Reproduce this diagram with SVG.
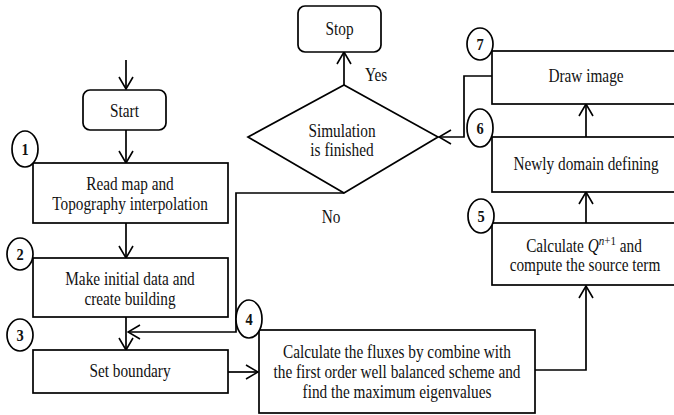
<svg xmlns="http://www.w3.org/2000/svg" width="674" height="415" viewBox="0 0 674 415">
<style>
.box{fill:#fff;stroke:#000;stroke-width:1.7}
.circ{fill:#fff;stroke:#000;stroke-width:1.7}
.ln{fill:none;stroke:#000;stroke-width:1.7}
text{font-family:"Liberation Serif","Times New Roman",serif;font-size:18px;fill:#111;text-anchor:middle}
.num{font-weight:bold;font-size:17px}
</style>
<defs>
<marker id="ah" viewBox="0 0 14 16" refX="13" refY="8" markerWidth="14" markerHeight="16" markerUnits="userSpaceOnUse" orient="auto">
<path d="M1,1 L13,8 L1,15" fill="none" stroke="#000" stroke-width="1.6"/>
</marker>
</defs>
<rect width="674" height="415" fill="#fff"/>
<g id="connectors">
<line class="ln" x1="126" y1="60" x2="126" y2="89" marker-end="url(#ah)"/>
<line class="ln" x1="126" y1="130" x2="126" y2="163" marker-end="url(#ah)"/>
<line class="ln" x1="126" y1="223" x2="126" y2="258" marker-end="url(#ah)"/>
<line class="ln" x1="126" y1="317" x2="126" y2="350" marker-end="url(#ah)"/>
<line class="ln" x1="228" y1="372" x2="258" y2="372" marker-end="url(#ah)"/>
<polyline class="ln" points="535,370 586,370 586,286" marker-end="url(#ah)"/>
<line class="ln" x1="586" y1="223" x2="586" y2="192" marker-end="url(#ah)"/>
<line class="ln" x1="586" y1="137" x2="586" y2="104" marker-end="url(#ah)"/>
<polyline class="ln" points="492,76 464,76 464,137 439,137" marker-end="url(#ah)"/>
<line class="ln" x1="344" y1="85" x2="344" y2="52" marker-end="url(#ah)"/>
<polyline class="ln" points="344,193 236,193 236,332 128,332" marker-end="url(#ah)"/>
<text transform="translate(365,81) scale(0.85,1)" style="text-anchor:start">Yes</text>
<text transform="translate(331,223) scale(0.85,1)">No</text>
</g>
<g id="start">
<rect class="box" x="83" y="90" width="83" height="40" rx="7"/>
<text transform="translate(124.5,117) scale(0.85,1)">Start</text>
</g>
<g id="step1">
<rect class="box" x="33" y="163" width="195" height="60"/>
<text transform="translate(130,190) scale(0.85,1)">Read map and</text>
<text transform="translate(130,210) scale(0.85,1)">Topography interpolation</text>
<ellipse class="circ" cx="25" cy="149" rx="13" ry="18"/>
<text class="num" transform="translate(25,155) scale(0.85,1)">1</text>
</g>
<g id="step2">
<rect class="box" x="33" y="258" width="195" height="59"/>
<text transform="translate(130,285) scale(0.85,1)">Make initial data and</text>
<text transform="translate(130,305) scale(0.85,1)">create building</text>
<ellipse class="circ" cx="20" cy="254" rx="13" ry="16"/>
<text class="num" transform="translate(20,260) scale(0.85,1)">2</text>
</g>
<g id="step3">
<rect class="box" x="33" y="350" width="195" height="43"/>
<text transform="translate(130,377) scale(0.85,1)">Set boundary</text>
<ellipse class="circ" cx="20" cy="335" rx="13" ry="16"/>
<text class="num" transform="translate(20,341) scale(0.85,1)">3</text>
</g>
<g id="step4">
<rect class="box" x="259" y="330" width="276" height="83"/>
<text transform="translate(397,358) scale(0.85,1)">Calculate the fluxes by combine with</text>
<text transform="translate(397,378) scale(0.85,1)">the first order well balanced scheme and</text>
<text transform="translate(397,398) scale(0.85,1)">find the maximum eigenvalues</text>
<ellipse class="circ" cx="249" cy="319" rx="13" ry="19"/>
<text class="num" transform="translate(249,325) scale(0.85,1)">4</text>
</g>
<g id="step5">
<rect class="box" x="492" y="223" width="190" height="62"/>
<text transform="translate(584,252) scale(0.85,1)">Calculate <tspan font-style="italic">Q</tspan><tspan font-size="13" dy="-7" font-style="italic">n</tspan><tspan font-size="13">+1</tspan><tspan dy="7"> and</tspan></text>
<text transform="translate(585,271) scale(0.85,1)">compute the source term</text>
<ellipse class="circ" cx="481" cy="216" rx="13" ry="17"/>
<text class="num" transform="translate(481,222) scale(0.85,1)">5</text>
</g>
<g id="step6">
<rect class="box" x="492" y="137" width="190" height="55"/>
<text transform="translate(586,170) scale(0.85,1)">Newly domain defining</text>
<ellipse class="circ" cx="480" cy="128" rx="13" ry="19"/>
<text class="num" transform="translate(480,134) scale(0.85,1)">6</text>
</g>
<g id="step7">
<rect class="box" x="492" y="51" width="190" height="53"/>
<text transform="translate(586,82) scale(0.85,1)">Draw image</text>
<ellipse class="circ" cx="480" cy="44" rx="13" ry="16"/>
<text class="num" transform="translate(480,50) scale(0.85,1)">7</text>
</g>
<g id="decision">
<polygon class="box" points="248,137 344,85 438,137 344,193"/>
<text transform="translate(342,137) scale(0.85,1)">Simulation</text>
<text transform="translate(342,156) scale(0.85,1)">is finished</text>
</g>
<g id="stop">
<rect class="box" x="298" y="6" width="83" height="46" rx="7"/>
<text transform="translate(339.5,35) scale(0.85,1)">Stop</text>
</g>
</svg>
